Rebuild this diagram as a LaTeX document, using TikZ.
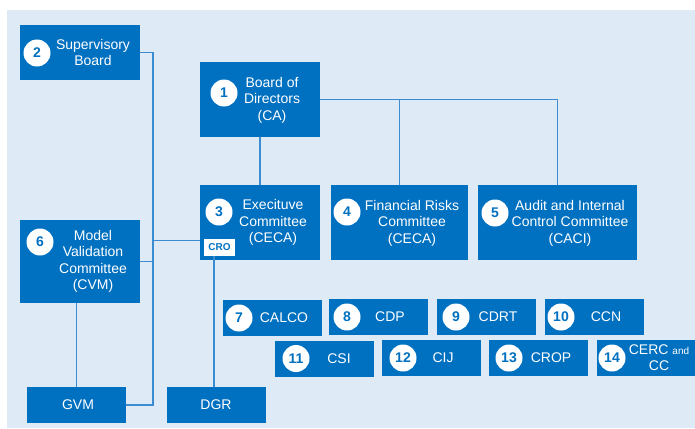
\documentclass[tikz,border=0pt]{standalone}
\usepackage{fontspec}
\setmainfont{Liberation Sans}
\definecolor{boxblue}{RGB}{0,112,192}
\definecolor{bgblue}{RGB}{222,234,246}
\definecolor{lineblue}{RGB}{60,140,210}
\tikzset{
  box/.style={fill=boxblue, inner sep=0pt, draw=none},
  num/.style={circle, fill=white, minimum size=27pt, inner sep=0pt, text=boxblue, font=\bfseries\fontsize{14}{14}\selectfont},
  lbl/.style={text=white, align=center, inner sep=0pt, font=\fontsize{14}{16.5}\selectfont},
  conn/.style={draw=lineblue, line width=1.1pt}
}
\begin{document}
\begin{tikzpicture}[x=1pt,y=-1pt]
\useasboundingbox (0,0) rectangle (695,428);
\fill[bgblue] (7,10) rectangle (695,428);

% big boxes
\node[box, minimum width=120pt, minimum height=55pt] (b2) at (80,52.5) {};
\node[box, minimum width=120pt, minimum height=75pt] (b1) at (260,99.5) {};
\node[box, minimum width=120pt, minimum height=75pt] (b3) at (260,222.5) {};
\node[box, minimum width=137pt, minimum height=75pt] (b4) at (399.5,222.5) {};
\node[box, minimum width=159pt, minimum height=75pt] (b5) at (557.5,222.5) {};
\node[box, minimum width=120pt, minimum height=83pt] (b6) at (80,261.5) {};
\node[box, minimum width=99pt, minimum height=36pt] (gvm) at (76.5,405) {};
\node[box, minimum width=99pt, minimum height=36pt] (dgr) at (216.5,405) {};

% small boxes
\node[box, minimum width=99pt, minimum height=36pt] (b7) at (272.5,318) {};
\node[box, minimum width=99pt, minimum height=36pt] (b8) at (378.5,317) {};
\node[box, minimum width=99pt, minimum height=36pt] (b9) at (486.5,317) {};
\node[box, minimum width=99pt, minimum height=36pt] (b10) at (594.5,317) {};
\node[box, minimum width=99pt, minimum height=36pt] (b11) at (324.5,359) {};
\node[box, minimum width=99pt, minimum height=36pt] (b12) at (431.5,358) {};
\node[box, minimum width=99pt, minimum height=36pt] (b13) at (538.5,358) {};
\node[box, minimum width=98pt, minimum height=36pt] (b14) at (646,358) {};

% CRO tag
\node[fill=white, minimum width=31pt, minimum height=17pt, inner sep=0pt, text=boxblue, font=\bfseries\fontsize{10}{10}\selectfont] (cro) at (219.5,247.5) {CRO};

% coordinates for junctions
\coordinate (jv) at (153,405);
\coordinate (j3) at (153,240.5);
\coordinate (jd) at (214,405);

% connectors
\draw[conn] (b2.east) -| (jv) -- (gvm.east);
\draw[conn] (b6.east) -- (b6.east -| jv);
\draw[conn] (j3) -- (j3 -| b3.west);
\draw[conn] (b1.south) -- (b3.north);
\draw[conn] (b1.east) -| (b5.north);
\draw[conn] (b4.north) -- (b4.north |- b1.east);
\draw[conn] (gvm.north) -- (gvm.north |- b6.south);
\draw[conn] (cro.south -| jd) -- (dgr.north -| jd);

% numbers
\node[num] (n1) at (224,93) {1};
\node[num] (n2) at (37,53) {2};
\node[num] (n3) at (219,212) {3};
\node[num] (n4) at (347,212) {4};
\node[num] (n5) at (495,213) {5};
\node[num] (n6) at (40,242) {6};
\node[num] (n7) at (239,318) {7};
\node[num] (n8) at (347,317) {8};
\node[num] (n9) at (456,317) {9};
\node[num] (n10) at (561,317) {10};
\node[num] (n11) at (296,358.5) {11};
\node[num] (n12) at (403,358) {12};
\node[num] (n13) at (509,358) {13};
\node[num] (n14) at (612,358) {14};

% labels
\node[lbl] (t2) at (93,52.5) {Supervisory\\Board};
\node[lbl] (t1) at (272,100) {Board of\\Directors\\(CA)};
\node[lbl] (t3) at (273,222.5) {Execituve\\Committee\\(CECA)};
\node[lbl] (t4) at (412,223) {Financial Risks\\Committee\\(CECA)};
\node[lbl] (t5) at (570,223) {Audit and Internal\\Control Committee\\(CACI)};
\node[lbl] (t6) at (93,261.5) {Model\\Validation\\Committee\\(CVM)};
\node[lbl] (tg) at (78,405) {GVM};
\node[lbl] (td) at (216,405) {DGR};
\node[lbl] (t7) at (284,318) {CALCO};
\node[lbl] (t8) at (390,317) {CDP};
\node[lbl] (t9) at (498,317) {CDRT};
\node[lbl] (t10) at (606,317) {CCN};
\node[lbl] (t11) at (339,358.5) {CSI};
\node[lbl] (t12) at (443,358) {CIJ};
\node[lbl] (t13) at (551,358) {CROP};
\node[lbl, font=\fontsize{14}{16}\selectfont] (t14) at (659,358) {CERC {\fontsize{10}{10}\selectfont and}\\CC};
\end{tikzpicture}
\end{document}
